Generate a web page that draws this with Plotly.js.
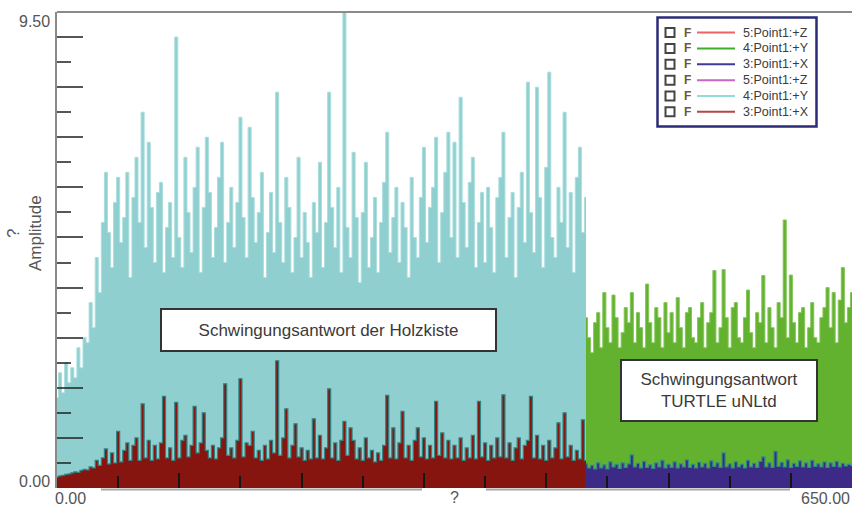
<!DOCTYPE html>
<html>
<head>
<meta charset="utf-8">
<script src="https://cdn.plot.ly/plotly-3.0.1.min.js"></script>
<style>html,body{margin:0;padding:0;background:#fff;}#chart{width:854px;height:508px;}</style>
</head>
<body>
<div id="chart"></div>
<script>
// ---------- data ----------
// Holzkiste: x from 0 to 432.5 in steps of 2.5
const woodX0 = 0, woodDx = 2.5;
const woodY = [1.8, 2.3, 1.9, 2.5, 2.1, 2.4, 2.2, 2.8, 2.4, 3.0, 2.9, 3.7, 3.2, 4.6, 3.9, 5.3,
  6.3, 5.1, 4.4, 5.7, 6.2, 4.9, 5.4, 6.3, 4.2, 5.8, 6.6, 5.3, 7.5, 4.8, 6.9, 5.6, 4.5, 5.9, 6.1, 4.3, 5.2, 5.7, 4.6, 9.0,
  5.0, 4.4, 6.6, 5.5, 4.7, 6.0, 6.8, 4.3, 5.6, 7.0, 5.9, 4.6, 5.2, 6.2, 6.9, 4.5, 5.3, 6.0, 4.8, 5.7,
  7.4, 5.4, 4.6, 7.2, 5.8, 4.9, 5.5, 6.3, 4.2, 5.1, 5.9, 4.7, 7.9, 5.3, 4.5, 6.2, 5.6, 4.3, 5.0, 6.6,
  4.6, 5.5, 4.9, 4.2, 5.7, 5.1, 6.5, 4.4, 5.3, 7.9, 5.6, 4.8, 6.0, 4.3, 9.6, 5.2, 4.6, 6.7, 5.4, 4.1,
  5.5, 6.5, 4.4, 5.0, 5.8, 4.3, 5.3, 6.1, 7.1, 4.7, 5.4, 6.0, 4.5, 5.7, 5.2, 4.2, 6.2, 5.0, 4.6, 5.8,
  6.8, 4.9, 5.6, 6.0, 7.0, 4.5, 5.5, 6.3, 7.1, 5.0, 6.9, 4.6, 7.8, 5.7, 4.8, 6.1, 6.6, 4.4, 5.3, 5.9,
  4.5, 6.0, 5.2, 4.3, 5.8, 6.2, 7.1, 4.6, 5.4, 5.9, 4.2, 5.6, 6.3, 4.9, 8.1, 5.5, 4.7, 8.0, 5.8, 4.4,
  6.4, 8.3, 5.0, 4.6, 6.0, 5.3, 7.5, 4.8, 5.9, 4.3, 6.2, 6.8, 5.1, 5.8];
const woodX = [0.22, 0.24, 0.25, 0.27, 0.28, 0.30, 0.32, 0.31, 0.35, 0.37, 0.36, 0.42, 0.40, 0.55, 0.45, 0.60,
  0.78, 0.48, 0.70, 0.50, 1.13, 0.52, 0.75, 0.90, 0.55, 0.85, 1.00, 0.55, 1.68, 0.60, 0.95, 0.55, 0.85, 0.58, 0.90, 1.83,
  0.60, 0.80, 0.55, 1.71, 0.60, 0.95, 1.05, 0.62, 0.85, 1.63, 0.70, 0.90, 1.50, 0.75, 0.60, 0.85, 0.58, 0.80, 1.00, 2.08,
  0.65, 0.80, 0.60, 0.95, 2.18, 0.62, 0.90, 0.85, 1.13, 0.60, 0.75, 0.55, 0.85, 0.58, 0.95, 0.70, 2.54, 0.65, 1.00, 1.58,
  0.60, 0.85, 1.28, 0.62, 0.80, 0.55, 0.75, 0.58, 1.38, 0.60, 1.05, 0.58, 0.80, 1.98, 0.60, 0.90, 0.55, 0.95, 1.33, 0.65,
  1.20, 0.95, 0.58, 0.80, 0.55, 1.00, 0.60, 0.75, 0.52, 0.70, 0.55, 0.85, 1.85, 0.60, 1.20, 0.58, 0.90, 1.53, 0.60, 0.85,
  0.55, 0.95, 1.20, 0.62, 1.00, 0.58, 0.85, 0.60, 1.73, 0.65, 1.10, 0.60, 0.95, 0.58, 0.85, 0.60, 1.00, 0.55, 0.80, 0.60,
  1.05, 0.58, 1.73, 0.62, 0.90, 0.55, 0.85, 0.60, 1.00, 0.62, 1.86, 0.60, 0.90, 0.55, 0.80, 1.00, 0.58, 0.85, 0.95, 1.83,
  0.60, 1.05, 0.58, 0.85, 0.55, 0.95, 0.60, 0.80, 1.30, 0.58, 1.50, 0.62, 0.85, 0.55, 0.75, 0.58, 1.36, 0.55];
// TURTLE uNLtd: x from 432.5 to 650 in steps of 2.5
const turtleX0 = 432.5, turtleDx = 2.5;
const turtleY = [3.4, 3.0, 2.7, 3.3, 3.5, 2.8, 3.9, 3.2, 2.9, 3.85, 3.4, 2.8, 3.1, 3.6, 3.3, 3.9, 2.9, 3.5, 3.2, 2.8,
  4.07, 3.3, 2.9, 3.6, 3.4, 2.8, 3.7, 3.1, 3.5, 2.9, 3.8, 3.2, 2.8, 3.5, 3.6, 3.0, 2.9, 3.4, 3.7, 2.8,
  3.3, 3.5, 4.34, 2.9, 3.2, 4.36, 3.4, 2.8, 3.6, 3.7, 3.0, 2.9, 3.4, 3.95, 3.1, 2.8, 3.5, 3.3, 4.24, 2.9,
  3.6, 3.2, 2.8, 3.7, 3.4, 5.35, 3.0, 4.25, 3.3, 2.9, 3.5, 3.6, 2.8, 3.2, 3.7, 3.0, 2.9, 3.4, 3.6, 4.0,
  3.2, 3.9, 2.9, 3.75, 4.4, 3.3, 3.6, 3.9];
const turtleX = [0.48, 0.40, 0.45, 0.38, 0.50, 0.40, 0.46, 0.38, 0.52, 0.42, 0.47, 0.39, 0.50, 0.41, 0.48, 0.66, 0.42, 0.49, 0.40, 0.53,
  0.41, 0.46, 0.39, 0.50, 0.42, 0.55, 0.40, 0.47, 0.41, 0.52, 0.40, 0.48, 0.42, 0.56, 0.41, 0.47, 0.40, 0.51, 0.42, 0.49,
  0.40, 0.54, 0.43, 0.50, 0.41, 0.70, 0.42, 0.48, 0.40, 0.52, 0.42, 0.47, 0.40, 0.55, 0.42, 0.49, 0.41, 0.53, 0.62, 0.42,
  0.50, 0.41, 0.73, 0.43, 0.51, 0.42, 0.56, 0.41, 0.49, 0.43, 0.54, 0.42, 0.50, 0.41, 0.55, 0.43, 0.48, 0.42, 0.52, 0.41,
  0.50, 0.43, 0.53, 0.42, 0.49, 0.44, 0.47, 0.45];

// legend entries
const legendNames = ['5:Point1:+Z', '4:Point1:+Y', '3:Point1:+X', '5:Point1:+Z', '4:Point1:+Y', '3:Point1:+X'];
const legendColors = ['#f06262', '#3fae2c', '#3b3b98', '#c468c4', '#92dada', '#b04848'];

// axis ticks
const yMajor = [1, 2, 3, 4, 5, 6, 7, 8, 9];
const yMinor = [0.5, 1.5, 2.5, 3.5, 4.5, 5.5, 6.5, 7.5, 8.5];
const y2Minor = [0.5, 1.5, 2.5, 3.5, 4.5, 5.5, 6.5, 7.5, 8.5, 9.5];
const xMajor = [100, 200, 300, 400, 500, 600];
const xMinor = [50, 150, 250, 350, 450, 550];

// ---------- layout helpers ----------
const W = 854, H = 508, ML = 57, MR = 2, MT = 12, MB = 20;
const PW = W - ML - MR, PH = H - MT - MB;
const px = x => (x - ML) / PW;
const py = y => (H - MB - y) / PH;
const FONT = 'Liberation Sans, Arial, sans-serif';

const traces = [
  {x0: woodX0, dx: woodDx, y: woodY, type: 'scatter', mode: 'lines', fill: 'tozeroy',
   fillcolor: '#8fcfcf', line: {color: '#acdede', width: 1, shape: 'hvh'}, hoverinfo: 'skip', showlegend: false},
  {x0: woodX0, dx: woodDx, y: woodX, type: 'scatter', mode: 'lines', fill: 'tozeroy',
   fillcolor: '#86150f', line: {color: '#2f8484', width: 1.2, shape: 'hvh'}, hoverinfo: 'skip', showlegend: false},
  {x0: turtleX0, dx: turtleDx, y: turtleY, type: 'scatter', mode: 'lines', fill: 'tozeroy',
   fillcolor: '#62b22f', line: {color: '#84c65a', width: 1, shape: 'hvh'}, hoverinfo: 'skip', showlegend: false},
  {x0: turtleX0, dx: turtleDx, y: turtleX, type: 'scatter', mode: 'lines', fill: 'tozeroy',
   fillcolor: '#3c2a86', line: {color: '#2d8a8a', width: 1.2, shape: 'hvh'}, hoverinfo: 'skip', showlegend: false}
];

const shapes = [];
const annotations = [];

// frame pieces
shapes.push({type: 'line', xref: 'paper', yref: 'paper', x0: 0, x1: 1, y0: 1, y1: 1, line: {color: '#8a8a8a', width: 2}});
shapes.push({type: 'line', xref: 'paper', yref: 'paper', x0: px(101), x1: px(422), y0: py(489.5), y1: py(489.5), line: {color: '#a8a8a8', width: 2}});
shapes.push({type: 'line', xref: 'paper', yref: 'paper', x0: px(486), x1: px(790), y0: py(489.5), y1: py(489.5), line: {color: '#a8a8a8', width: 2}});

// legend box
shapes.push({type: 'rect', xref: 'paper', yref: 'paper', x0: px(657.5), x1: px(816.5), y0: py(126.5), y1: py(17.5),
  fillcolor: '#ffffff', line: {color: '#2b2b78', width: 2.5}});
legendNames.forEach((name, i) => {
  const yc = 32.6 + i * 15.85;
  shapes.push({type: 'rect', xref: 'paper', yref: 'paper', x0: px(665.5), x1: px(674.5), y0: py(yc + 4.5), y1: py(yc - 4.5),
    line: {color: '#444', width: 2}, fillcolor: '#fff'});
  shapes.push({type: 'line', xref: 'paper', yref: 'paper', x0: px(697), x1: px(735), y0: py(yc), y1: py(yc),
    line: {color: legendColors[i], width: 2}});
  annotations.push({xref: 'paper', yref: 'paper', x: px(681.5), y: py(yc), xanchor: 'left', yanchor: 'middle',
    text: '<b>F</b>', showarrow: false, font: {family: FONT, size: 12, color: '#6e5836'}});
  annotations.push({xref: 'paper', yref: 'paper', x: px(741), y: py(yc), xanchor: 'left', yanchor: 'middle',
    text: name, showarrow: false, font: {family: FONT, size: 12.5, color: '#3c3c3c'}});
});

// text boxes
annotations.push({xref: 'paper', yref: 'paper', x: px(328.3), y: py(329.7), xanchor: 'center', yanchor: 'middle',
  text: 'Schwingungsantwort der Holzkiste', showarrow: false, font: {family: FONT, size: 17, color: '#3a3a3a'},
  bgcolor: '#ffffff', bordercolor: '#333', borderwidth: 2, borderpad: 0, width: 333, height: 40});
annotations.push({xref: 'paper', yref: 'paper', x: px(719.2), y: py(390.8), xanchor: 'center', yanchor: 'middle',
  text: 'Schwingungsantwort<br>TURTLE uNLtd', showarrow: false, font: {family: FONT, size: 17, color: '#3a3a3a'},
  bgcolor: '#ffffff', bordercolor: '#333', borderwidth: 2, borderpad: 0, width: 194, height: 59});

// axis labels
annotations.push({xref: 'paper', yref: 'paper', x: px(52), y: py(21.7), xanchor: 'right', yanchor: 'middle',
  text: '9.50', showarrow: false, font: {family: FONT, size: 16, color: '#555'}});
annotations.push({xref: 'paper', yref: 'paper', x: px(52), y: py(481), xanchor: 'right', yanchor: 'middle',
  text: '0.00', showarrow: false, font: {family: FONT, size: 16, color: '#555'}});
annotations.push({xref: 'paper', yref: 'paper', x: px(53), y: py(499), xanchor: 'left', yanchor: 'middle',
  text: '0.00', showarrow: false, font: {family: FONT, size: 16, color: '#555'}});
annotations.push({xref: 'paper', yref: 'paper', x: px(852), y: py(499), xanchor: 'right', yanchor: 'middle',
  text: '650.00', showarrow: false, font: {family: FONT, size: 16, color: '#555'}});
annotations.push({xref: 'paper', yref: 'paper', x: px(454), y: py(498), xanchor: 'center', yanchor: 'middle',
  text: '?', showarrow: false, font: {family: FONT, size: 16, color: '#555'}});
annotations.push({xref: 'paper', yref: 'paper', x: px(24), y: py(233), xanchor: 'center', yanchor: 'middle',
  text: '?<br>Amplitude', textangle: -90, showarrow: false, font: {family: FONT, size: 17, color: '#555'}});

const tickCol = 'rgba(35,40,40,0.78)';
const layout = {
  width: W, height: H,
  margin: {l: ML, r: MR, t: MT, b: MB, pad: 0},
  paper_bgcolor: '#fff', plot_bgcolor: '#fff',
  showlegend: false,
  font: {family: FONT, size: 16, color: '#555'},
  xaxis: {range: [0, 650], showgrid: false, zeroline: false, showline: false, showticklabels: false,
    tickmode: 'array', tickvals: xMajor, ticks: 'inside', ticklen: 15, tickwidth: 2, tickcolor: '#151515',
    minor: {tickmode: 'array', tickvals: xMinor, ticks: 'inside', ticklen: 12, tickwidth: 2, tickcolor: '#151515'}},
  yaxis: {range: [0, 9.5], showgrid: false, zeroline: false, showline: true, linecolor: '#8a8a8a', linewidth: 2,
    showticklabels: false, tickmode: 'array', tickvals: yMajor, ticks: 'inside', ticklen: 26, tickwidth: 2, tickcolor: tickCol,
    minor: {tickmode: 'array', tickvals: yMinor, ticks: 'inside', ticklen: 14, tickwidth: 2, tickcolor: tickCol}},
  yaxis2: {overlaying: 'y', side: 'right', anchor: 'x', range: [0, 10], showgrid: false, zeroline: false,
    showline: true, linecolor: '#8a8a8a', linewidth: 2, showticklabels: false,
    tickmode: 'array', tickvals: yMajor, ticks: 'inside', ticklen: 25, tickwidth: 2, tickcolor: tickCol,
    minor: {tickmode: 'array', tickvals: y2Minor, ticks: 'inside', ticklen: 14, tickwidth: 2, tickcolor: tickCol}},
  shapes: shapes,
  annotations: annotations
};

Plotly.newPlot('chart', traces, layout, {staticPlot: true, displayModeBar: false});
</script>
</body>
</html>
